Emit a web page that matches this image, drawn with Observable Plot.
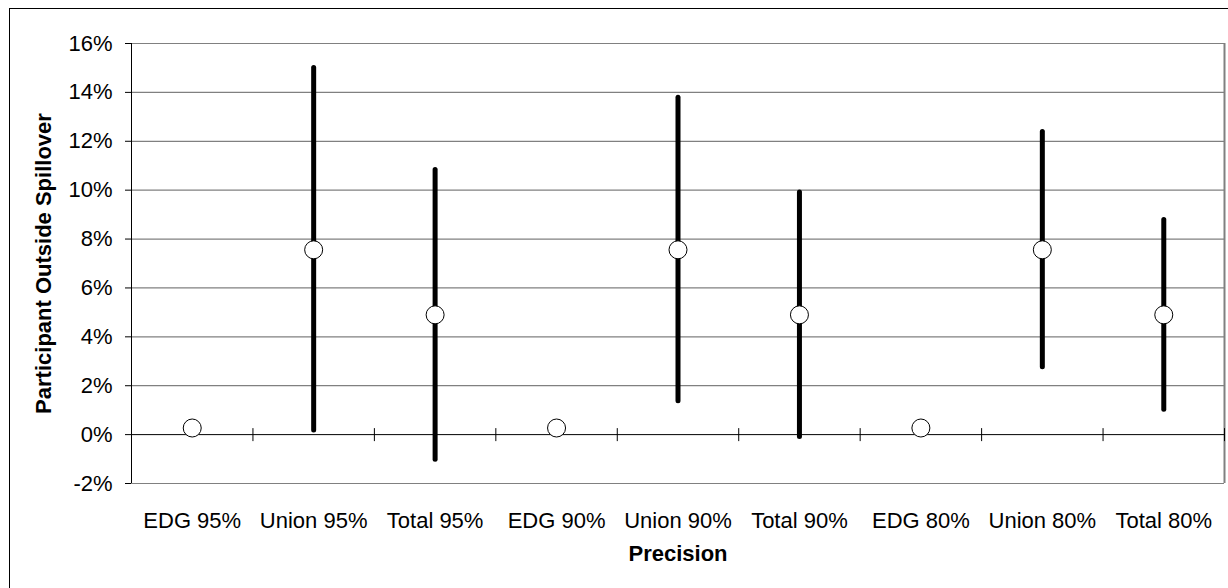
<!DOCTYPE html>
<html>
<head>
<meta charset="utf-8">
<script src="https://cdn.jsdelivr.net/npm/d3@7"></script>
<script src="https://cdn.jsdelivr.net/npm/@observablehq/plot@0.6"></script>
<style>
  html, body { margin: 0; padding: 0; background: white; overflow: hidden; }
  #wrap { position: relative; width: 1228px; height: 588px; overflow: hidden; }
  #border { position: absolute; left: 9px; top: 8px; width: 1300px; height: 700px; border: 1px solid black; box-sizing: border-box; }
  #chart { position: absolute; left: 0; top: 0; }
</style>
</head>
<body>
<div id="wrap"><div id="border"></div><div id="chart"></div></div>
<script>
const categories = ["EDG 95%", "Union 95%", "Total 95%", "EDG 90%", "Union 90%", "Total 90%", "EDG 80%", "Union 80%", "Total 80%"];
const estimates = [0.0027, 0.0756, 0.049, 0.0027, 0.0756, 0.049, 0.0027, 0.0756, 0.049];
const lower = [null, 0.0017, -0.0103, null, 0.0136, -0.001, null, 0.0276, 0.0102];
const upper = [null, 0.1500, 0.1083, null, 0.1378, 0.0990, null, 0.1238, 0.0878];
const yTicks = [-0.02, 0, 0.02, 0.04, 0.06, 0.08, 0.10, 0.12, 0.14, 0.16];
const xTitle = "Precision";
const yTitle = "Participant Outside Spillover";

const rows = categories.map((c, i) => ({cat: c, pos: i + 0.5, est: estimates[i], lo: lower[i], hi: upper[i]}));
const bounds = d3.range(1, categories.length + 1);

const chart = Plot.plot({
  width: 1228,
  height: 588,
  marginLeft: 131,
  marginRight: 4,
  marginTop: 43,
  marginBottom: 105,
  style: {fontFamily: "'Liberation Sans', Arial, sans-serif", fontSize: "22px", color: "black", background: "transparent", overflow: "visible"},
  x: {type: "linear", domain: [0, categories.length], axis: null},
  y: {domain: [-0.02, 0.16], axis: null},
  marks: [
    Plot.ruleY(yTicks.filter(d => d !== 0), {stroke: "#808080", strokeWidth: 1.2}),
    Plot.ruleX([categories.length], {stroke: "#808080", strokeWidth: 2}),
    Plot.ruleY([0], {stroke: "black"}),
    Plot.ruleX([0], {stroke: "black"}),
    Plot.axisY({ticks: yTicks, tickSize: 6, tickPadding: 13, tickFormat: d => `${Math.round(d * 100)}%`, label: null, stroke: "black"}),
    Plot.axisX({ticks: rows.map(r => r.pos), tickSize: 0, tickPadding: 29, tickFormat: d => categories[Math.floor(d)], label: null}),
    Plot.ruleX(bounds, {x: d => d, y1: 0, y2: 0, insetTop: -6, insetBottom: -7, stroke: "black"}),
    Plot.ruleX(rows.filter(r => r.lo != null), {x: "pos", y1: "lo", y2: "hi", stroke: "black", strokeWidth: 5, strokeLinecap: "round"}),
    Plot.dot(rows, {x: "pos", y: "est", r: 9, fill: "white", stroke: "black", strokeWidth: 1}),
    Plot.text([yTitle], {frameAnchor: "left", textAnchor: "middle", rotate: -90, dx: -88, fontWeight: "bold", fontSize: 22}),
    Plot.text([xTitle], {frameAnchor: "bottom", dy: 77, fontWeight: "bold", fontSize: 22})
  ]
});
document.getElementById("chart").appendChild(chart);
</script>
</body>
</html>
